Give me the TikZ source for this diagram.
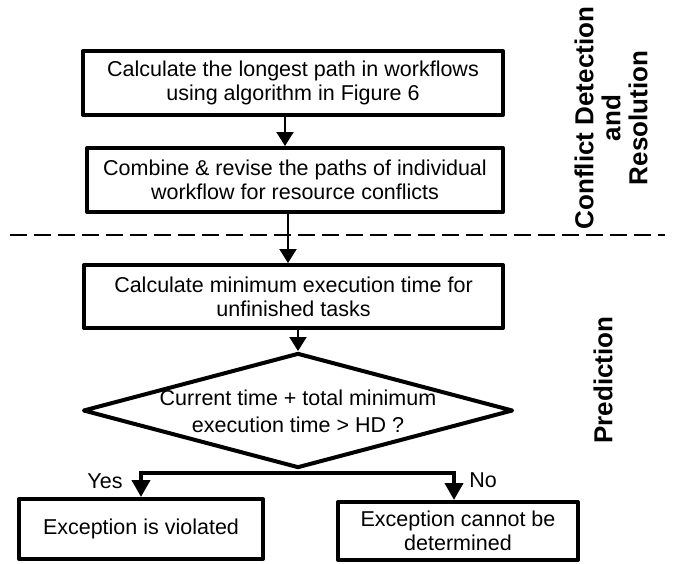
\documentclass[tikz,border=0pt]{standalone}
\usepackage{fontspec}
\setmainfont{Liberation Sans}
\usetikzlibrary{shapes.geometric,arrows.meta}
\begin{document}
\begin{tikzpicture}[x=1pt,y=-1pt,
  txt/.style={font=\fontsize{21.5}{24}\selectfont, align=center},
  procbox/.style={txt, draw, line width=4pt, line join=round, inner sep=0pt},
  decision/.style={draw, diamond, line width=4pt, line join=round, inner sep=0pt,
    minimum width=430pt, minimum height=115pt},
  flow/.style={line width=2pt, -{Triangle[width=17pt,length=14pt]}},
  branch/.style={line width=4pt, -{Triangle[width=18pt,length=17pt]}},
  phase/.style={font=\bfseries\fontsize{26}{27}\selectfont, align=center, rotate=90},
  divider/.style={line width=2pt, dash pattern=on 17pt off 7pt}]
\useasboundingbox (0,0) rectangle (675,563);

% process boxes
\node[procbox, minimum width=420pt, minimum height=64pt] (longest) at (293,83)
  {Calculate the longest path in workflows\\using algorithm in Figure 6};
\node[procbox, minimum width=416pt, minimum height=64pt] (combine) at (295,180)
  {Combine \& revise the paths of individual\\workflow for resource conflicts};
\node[procbox, minimum width=419pt, minimum height=63pt] (mintime) at (293.5,296.5)
  {Calculate minimum execution time for\\unfinished tasks};

% decision
\node[decision] (check) at (298,410.5) {};
\node[font=\fontsize{21.5}{27}\selectfont, align=center] (checktxt) at (298,411)
  {Current time + total minimum\\execution time > HD ?};

% outcomes
\node[procbox, minimum width=244pt, minimum height=60pt] (violated) at (141,529)
  {Exception is violated};
\node[procbox, minimum width=240pt, minimum height=58pt] (unknown) at (458,531)
  {Exception cannot be\\determined};

% phase divider
\coordinate (divL) at (10,235);
\coordinate (divR) at (665,235);
\draw[divider] (divL) -- (divR);

% phase labels
\node[phase] (conflict) at (611,118) {Conflict Detection\\and\\Resolution};
\node[phase] (predict) at (603,380) {Prediction};

% connectors
\draw[flow] ([xshift=-8pt]longest.south) -- ([xshift=-8pt]longest.south |- combine.north);
\draw[flow] ([xshift=-7pt]combine.south) -- ([xshift=-7pt]combine.south |- mintime.north);
\draw[flow] ([xshift=4.5pt]mintime.south) -- (check.north);

\coordinate (split) at ([yshift=-3pt]check.south);
\draw[branch] (split) -| (violated.north);
\draw[branch] (split) -| ([xshift=-4pt]unknown.north);

\node[txt, anchor=center] (yes) at (105,481) {Yes};
\node[txt, anchor=center] (no) at (483,480) {No};
\end{tikzpicture}
\end{document}
